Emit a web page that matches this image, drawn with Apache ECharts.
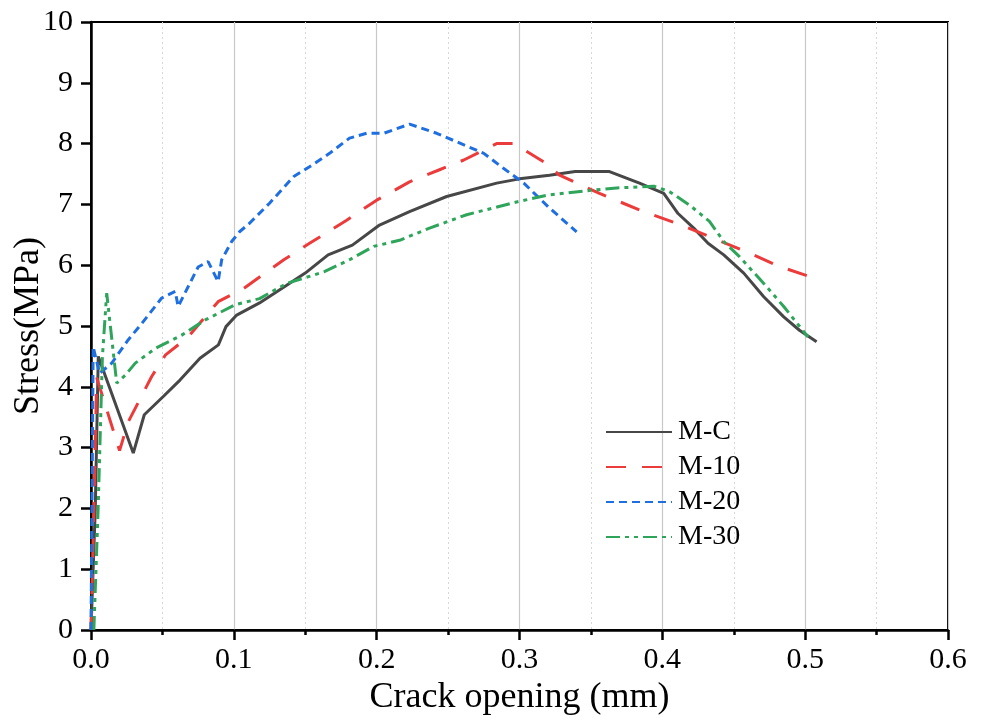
<!DOCTYPE html>
<html><head><meta charset="utf-8">
<script src="https://cdn.jsdelivr.net/npm/echarts@6/dist/echarts.min.js"></script>
<style>html,body{margin:0;padding:0;background:#fff}#c{width:984px;height:723px}</style>
</head><body><div id="c"></div>
<script>
const seriesNames = ['M-C', 'M-10', 'M-20', 'M-30'];

const mcX = [0, 0.003, 0.0051, 0.0296, 0.0373, 0.0506, 0.0623, 0.0763, 0.0892, 0.0945, 0.102, 0.118, 0.137, 0.150, 0.166, 0.183, 0.202, 0.223, 0.249, 0.284, 0.300, 0.321, 0.339, 0.363, 0.384, 0.401, 0.411, 0.422, 0.432, 0.443, 0.457, 0.471, 0.485, 0.496, 0.508];
const mcY = [0, 2.0, 4.50, 2.91, 3.54, 3.84, 4.11, 4.47, 4.69, 4.99, 5.18, 5.38, 5.67, 5.87, 6.17, 6.33, 6.66, 6.88, 7.13, 7.35, 7.42, 7.48, 7.54, 7.54, 7.35, 7.18, 6.85, 6.61, 6.36, 6.17, 5.87, 5.48, 5.15, 4.93, 4.74];

const m10X = [0, 0.002, 0.004, 0.020, 0.026, 0.0425, 0.052, 0.068, 0.089, 0.107, 0.135, 0.153, 0.179, 0.200, 0.223, 0.244, 0.261, 0.284, 0.296, 0.317, 0.328, 0.356, 0.387, 0.410, 0.433, 0.459, 0.482, 0.506];
const m10Y = [0, 2.0, 4.15, 2.95, 3.42, 4.17, 4.52, 4.82, 5.40, 5.62, 6.09, 6.36, 6.74, 7.07, 7.37, 7.57, 7.73, 8.00, 8.00, 7.70, 7.48, 7.18, 6.88, 6.69, 6.47, 6.22, 5.98, 5.79];

const m20X = [0, 0.001, 0.0015, 0.006, 0.0145, 0.026, 0.0355, 0.0495, 0.059, 0.061, 0.075, 0.082, 0.089, 0.0915, 0.0985, 0.104, 0.111, 0.125, 0.142, 0.153, 0.167, 0.181, 0.193, 0.205, 0.223, 0.242, 0.256, 0.275, 0.289, 0.303, 0.321, 0.340];
const m20Y = [0, 3.0, 4.66, 4.22, 4.39, 4.77, 5.04, 5.46, 5.57, 5.32, 5.97, 6.06, 5.73, 6.09, 6.39, 6.55, 6.69, 7.02, 7.46, 7.62, 7.84, 8.09, 8.17, 8.17, 8.32, 8.17, 8.03, 7.84, 7.59, 7.35, 6.94, 6.55];

const m30X = [0.002, 0.005, 0.008, 0.011, 0.018, 0.024, 0.031, 0.045, 0.0635, 0.080, 0.101, 0.118, 0.137, 0.163, 0.181, 0.198, 0.216, 0.237, 0.263, 0.298, 0.319, 0.345, 0.368, 0.394, 0.405, 0.419, 0.433, 0.443, 0.454, 0.471, 0.485, 0.502];
const m30Y = [0, 2.0, 4.5, 5.54, 4.06, 4.19, 4.39, 4.63, 4.85, 5.10, 5.35, 5.45, 5.70, 5.89, 6.09, 6.31, 6.41, 6.61, 6.83, 7.04, 7.15, 7.22, 7.27, 7.30, 7.21, 6.99, 6.72, 6.39, 6.14, 5.70, 5.32, 4.82];

const xTickLabels = ['0.0', '0.1', '0.2', '0.3', '0.4', '0.5', '0.6'];

function pairs(xs, ys) { return xs.map((x, i) => [x, ys[i]]); }

const FONT = '"Liberation Serif", "Times New Roman", serif';
const styles = [
  { color: '#474747', type: 'solid' },
  { color: '#ec3b3b', type: [20, 16] },
  { color: '#1f6fe0', type: [8, 5] },
  { color: '#2fa55c', type: [14, 5, 4, 5, 4, 5] }
];
const dataSets = [pairs(mcX, mcY), pairs(m10X, m10Y), pairs(m20X, m20Y), pairs(m30X, m30Y)];

const chart = echarts.init(document.getElementById('c'), null, { renderer: 'canvas' });
chart.setOption({
  animation: false,
  backgroundColor: '#fff',
  grid: { left: 91, right: 36, top: 22, bottom: 93, containLabel: false, outerBoundsMode: 'none',
    show: true, borderColor: '#000', borderWidth: 2, backgroundColor: 'transparent' },
  legend: {
    orient: 'vertical', left: 600, top: 413, itemWidth: 66, itemHeight: 14, itemGap: 7,
    data: seriesNames,
    itemStyle: { opacity: 0 },
    textStyle: { fontFamily: FONT, fontSize: 28, color: '#000', padding: [0, 0, 0, 1] }
  },
  xAxis: {
    type: 'value', min: 0, max: 0.6, interval: 0.1,
    name: 'Crack opening (mm)', nameLocation: 'middle', nameGap: 50, nameMoveOverlap: false,
    nameTextStyle: { fontFamily: FONT, fontSize: 36, color: '#000' },
    axisLine: { show: true, lineStyle: { color: '#000', width: 2.5 } },
    axisTick: { show: true, inside: false, length: 10, lineStyle: { color: '#000', width: 2.5 } },
    minorTick: { show: true, splitNumber: 2, length: 5, lineStyle: { color: '#000', width: 2.5 } },
    axisLabel: { fontFamily: FONT, fontSize: 30, color: '#000', margin: 15,
      formatter: v => xTickLabels[Math.round(v * 10)] },
    splitLine: { show: true, lineStyle: { color: '#c8c8c8', width: 1.2 } },
    minorSplitLine: { show: true, lineStyle: { color: '#d8d8d8', width: 1, type: [2, 3] } }
  },
  yAxis: {
    type: 'value', min: 0, max: 10, interval: 1,
    name: 'Stress(MPa)', nameLocation: 'middle', nameGap: 44, nameMoveOverlap: false,
    nameTextStyle: { fontFamily: FONT, fontSize: 36, color: '#000' },
    axisLine: { show: true, lineStyle: { color: '#000', width: 2.5 } },
    axisTick: { show: true, inside: false, length: 10, lineStyle: { color: '#000', width: 2.5 } },
    axisLabel: { fontFamily: FONT, fontSize: 30, color: '#000', margin: 18 },
    splitLine: { show: false }
  },
  series: seriesNames.map((n, i) => ({
    name: n, type: 'line', data: dataSets[i], showSymbol: false, symbol: 'none',
    lineStyle: { color: styles[i].color, width: 3, type: styles[i].type },
    itemStyle: { color: styles[i].color },
    z: 3 + i
  }))
});
</script></body></html>
